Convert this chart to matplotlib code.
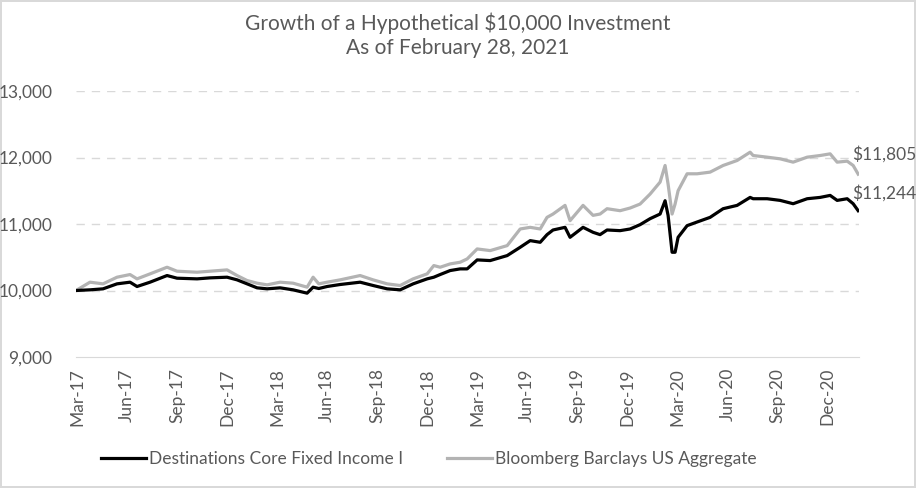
import matplotlib
import matplotlib.pyplot as plt

matplotlib.use('Agg')

plt.rcParams['font.family'] = ['Lato', 'DejaVu Sans']

# months elapsed since Mar-17
months = [-0.06, 0.78, 1.56, 2.40, 3.18, 3.60, 4.38, 5.40, 6.00, 7.20, 7.98, 9.00,
          9.60, 10.20, 10.80, 11.40, 12.18, 12.96, 13.80, 14.16, 14.50, 15.00, 15.78,
          16.98, 17.76, 18.60, 19.38, 20.16, 21.00, 21.40, 21.78, 22.38, 22.98, 23.40,
          24.00, 24.78, 25.80, 26.58, 27.18, 27.78, 28.19, 28.55, 29.27, 29.57, 30.35,
          30.95, 31.37, 31.79, 32.57, 33.17, 33.77, 34.37, 34.97, 35.27, 35.45, 35.69,
          35.87, 36.05, 36.59, 37.19, 37.97, 38.75, 39.59, 40.37, 40.55, 41.39, 42.17,
          42.95, 43.79, 44.57, 45.17, 45.59, 46.19, 46.55, 46.85]

fund = [10000, 10010, 10025, 10100, 10125, 10060, 10125, 10225, 10185, 10175, 10190, 10200,
        10160, 10100, 10040, 10025, 10040, 10010, 9960, 10050, 10030, 10060, 10090,
        10125, 10075, 10025, 10010, 10100, 10175, 10200, 10240, 10300, 10325, 10325,
        10460, 10450, 10525, 10650, 10750, 10725, 10840, 10910, 10950, 10800, 10950,
        10875, 10840, 10910, 10900, 10925, 10990, 11080, 11150, 11350, 11130, 10575,
        10575, 10800, 10975, 11030, 11100, 11230, 11280, 11400, 11380, 11380, 11355,
        11305, 11380, 11400, 11430, 11355, 11380, 11305, 11200]

index = [10000, 10125, 10100, 10200, 10240, 10175, 10250, 10350, 10290, 10275, 10290, 10310,
         10225, 10150, 10110, 10085, 10125, 10110, 10050, 10200, 10100, 10125, 10160,
         10225, 10160, 10100, 10075, 10175, 10250, 10375, 10350, 10400, 10425, 10475,
         10625, 10600, 10675, 10925, 10950, 10925, 11100, 11150, 11280, 11050, 11280,
         11130, 11150, 11230, 11200, 11240, 11300, 11450, 11630, 11880, 11600, 11150,
         11300, 11500, 11755, 11755, 11780, 11880, 11955, 12080, 12030, 12005, 11980,
         11930, 12005, 12030, 12055, 11930, 11945, 11880, 11750]

tick_labels = ['Mar-17', 'Jun-17', 'Sep-17', 'Dec-17', 'Mar-18', 'Jun-18', 'Sep-18', 'Dec-18',
               'Mar-19', 'Jun-19', 'Sep-19', 'Dec-19', 'Mar-20', 'Jun-20', 'Sep-20', 'Dec-20']
tick_months = [3 * i for i in range(len(tick_labels))]

fund_label = 'Destinations Core Fixed Income I'
index_label = 'Bloomberg Barclays US Aggregate'
fund_end = '$11,244'
index_end = '$11,805'

text_color = '#595959'

fig = plt.figure(figsize=(9.16, 4.88), dpi=100)
fig.patch.set_edgecolor('#d9d9d9')
fig.patch.set_linewidth(1.5)
ax = fig.add_axes([76 / 916, 1 - 357 / 488, (859 - 76) / 916, (357 - 91) / 488])

ax.plot(months, fund, color='black', lw=2.3, label=fund_label, zorder=3)
ax.plot(months, index, color='#b3b3b3', lw=2.3, label=index_label, zorder=2)

ax.set_xlim(-0.06, 46.9)
ax.set_ylim(9000, 13000)
ax.set_yticks([9000, 10000, 11000, 12000, 13000])
ax.set_yticklabels(['{:,}'.format(v) for v in [9000, 10000, 11000, 12000, 13000]])
ax.set_xticks(tick_months)
ax.set_xticklabels(tick_labels, rotation=90)
ax.tick_params(axis='both', length=0, colors=text_color, labelsize=12.5)
ax.tick_params(axis='y', pad=17)
ax.tick_params(axis='x', pad=8)

for v in [10000, 11000, 12000, 13000]:
    ax.axhline(v, color='#d9d9d9', lw=1, ls=(0, (6, 5)), zorder=1)
for s in ['left', 'right', 'top']:
    ax.spines[s].set_visible(False)
ax.spines['bottom'].set_color('#d9d9d9')

ax.annotate(index_end, (months[-1], index[-1]), xytext=(-6, 20), textcoords='offset pixels',
            ha='left', va='center', color=text_color, fontsize=12.5)
ax.annotate(fund_end, (months[-1], fund[-1]), xytext=(-6, 18), textcoords='offset pixels',
            ha='left', va='center', color=text_color, fontsize=12.5)

fig.text(0.5, 1 - 35 / 488, 'Growth of a Hypothetical $10,000 Investment\nAs of February 28, 2021',
         ha='center', va='center', color=text_color, fontsize=15, linespacing=1.25)

fig.legend(loc='center', bbox_to_anchor=(0.468, 1 - 459 / 488), ncol=2, frameon=False,
           fontsize=12.5, labelcolor=text_color, handlelength=2.6, handletextpad=0.2,
           columnspacing=2.5)

fig.savefig('out.png', dpi=100)
